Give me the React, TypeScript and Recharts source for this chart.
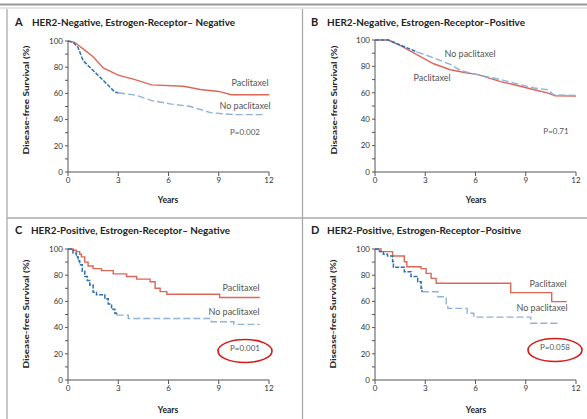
import React from 'react'
import { LineChart, Line, XAxis, YAxis } from 'recharts'

type Pt = { t: number; s: number }

// Panel A: HER2-negative, ER-negative
const aPaclitaxel: Pt[] = [
  { t: 0, s: 100 }, { t: 0.4, s: 99 }, { t: 0.6, s: 97 }, { t: 1.0, s: 93 }, { t: 1.5, s: 88 },
  { t: 2.1, s: 79.5 }, { t: 3.0, s: 74 }, { t: 4.0, s: 70.5 }, { t: 5.0, s: 66.5 }, { t: 6.9, s: 65.5 },
  { t: 7.9, s: 63 }, { t: 9.0, s: 61.5 }, { t: 9.75, s: 59 }, { t: 12, s: 59 },
]
const aNoPaclitaxel: Pt[] = [
  { t: 0, s: 100 }, { t: 0.3, s: 99 }, { t: 0.6, s: 95 }, { t: 0.9, s: 85 }, { t: 1.5, s: 77.5 },
  { t: 2.1, s: 70 }, { t: 2.8, s: 61 }, { t: 3.0, s: 60.5 }, { t: 4.1, s: 58.5 }, { t: 5.0, s: 54.5 },
  { t: 6.1, s: 52 }, { t: 7.3, s: 50 }, { t: 8.1, s: 47 }, { t: 8.5, s: 45.3 }, { t: 9.9, s: 43.8 },
  { t: 11.8, s: 43.8 },
]

// Panel B: HER2-negative, ER-positive
const bPaclitaxel: Pt[] = [
  { t: 0, s: 100 }, { t: 0.8, s: 100 }, { t: 1.55, s: 95.5 }, { t: 2.5, s: 89 }, { t: 3.5, s: 82 },
  { t: 4.5, s: 77.5 }, { t: 5.5, s: 75 }, { t: 6.1, s: 74 }, { t: 7.5, s: 68.5 }, { t: 8.5, s: 65.5 },
  { t: 9.5, s: 62.3 }, { t: 10.3, s: 60 }, { t: 10.75, s: 57.8 }, { t: 12, s: 57.5 },
]
const bNoPaclitaxel: Pt[] = [
  { t: 0, s: 100 }, { t: 0.8, s: 100 }, { t: 1.55, s: 96 }, { t: 2.5, s: 91 }, { t: 3.5, s: 86.5 },
  { t: 4.5, s: 81.5 }, { t: 5.1, s: 77 }, { t: 5.9, s: 74.3 }, { t: 7.5, s: 70 }, { t: 8.5, s: 66.7 },
  { t: 9.5, s: 63.6 }, { t: 10.35, s: 62.3 }, { t: 10.65, s: 58.5 }, { t: 12, s: 58 },
]

// Panel C: HER2-positive, ER-negative
const cPaclitaxel: Pt[] = [
  { t: 0, s: 100 }, { t: 0.3, s: 99 }, { t: 0.5, s: 98 }, { t: 0.7, s: 96 }, { t: 0.8, s: 94 },
  { t: 1.0, s: 90 }, { t: 1.2, s: 87 }, { t: 1.5, s: 85 }, { t: 2.0, s: 83.5 }, { t: 2.7, s: 81 },
  { t: 3.5, s: 79 }, { t: 4.1, s: 77 }, { t: 4.9, s: 75 }, { t: 5.2, s: 70 }, { t: 5.5, s: 67.5 },
  { t: 5.9, s: 65.5 }, { t: 9.05, s: 63 }, { t: 11.45, s: 63 },
]
const cNoPaclitaxel: Pt[] = [
  { t: 0, s: 100 }, { t: 0.3, s: 97 }, { t: 0.5, s: 94 }, { t: 0.6, s: 91 }, { t: 0.7, s: 88 },
  { t: 0.85, s: 83 }, { t: 1.0, s: 79 }, { t: 1.15, s: 76 }, { t: 1.3, s: 72.5 }, { t: 1.5, s: 67 },
  { t: 1.7, s: 65 }, { t: 2.2, s: 62 }, { t: 2.4, s: 58 }, { t: 2.6, s: 54 }, { t: 2.8, s: 51 },
  { t: 2.9, s: 49.5 }, { t: 3.6, s: 47 }, { t: 8.55, s: 44.5 }, { t: 9.9, s: 42.5 }, { t: 11.45, s: 42.5 },
]

// Panel D: HER2-positive, ER-positive
const dPaclitaxel: Pt[] = [
  { t: 0, s: 100 }, { t: 0.36, s: 98 }, { t: 1.05, s: 94.6 }, { t: 1.75, s: 90.3 }, { t: 1.9, s: 86.5 },
  { t: 2.75, s: 85 }, { t: 3.05, s: 81.4 }, { t: 3.35, s: 77.6 }, { t: 3.65, s: 73.8 }, { t: 8.1, s: 66.7 },
  { t: 10.55, s: 59.8 }, { t: 11.45, s: 59.8 },
]
const dNoPaclitaxel: Pt[] = [
  { t: 0, s: 100 }, { t: 0.26, s: 98 }, { t: 0.5, s: 96 }, { t: 0.75, s: 94.6 }, { t: 1.05, s: 90.3 },
  { t: 1.1, s: 86 }, { t: 1.75, s: 82.7 }, { t: 2.15, s: 79 }, { t: 2.55, s: 75 }, { t: 2.75, s: 70 },
  { t: 2.8, s: 67.4 }, { t: 3.75, s: 63.6 }, { t: 4.25, s: 57.3 }, { t: 4.35, s: 54.7 }, { t: 5.5, s: 51 },
  { t: 5.9, s: 48 }, { t: 9.3, s: 43.3 }, { t: 10.9, s: 43.3 },
]

const xTicks = [0, 3, 6, 9, 12]
const yTicks = [0, 10, 20, 30, 40, 50, 60, 70, 80, 90, 100]

const RED = '#dd6657'
const BLUE_DARK = '#2f6fb0'
const BLUE_LIGHT = '#8fb2d8'
const FONT = 'Lato, "Open Sans", sans-serif'

type PanelProps = {
  left: number
  top: number
  width: number
  height: number
  plotLeft: number
  plotTop: number
  plotRight: number
  plotBottom: number
  pac: Pt[]
  noPac: Pt[]
  step: boolean
}

function Panel(p: PanelProps) {
  const yW = 30
  const xH = 20
  const margin = {
    top: p.plotTop - p.top,
    left: p.plotLeft - p.left - yW,
    right: p.left + p.width - p.plotRight,
    bottom: p.top + p.height - p.plotBottom - xH,
  }
  const kind = p.step ? 'stepAfter' : 'linear'
  const early = p.noPac.filter((d) => d.t <= 3.1)
  const late = p.noPac.filter((d, i) => d.t >= 3.1 || (p.noPac[i + 1] && p.noPac[i + 1].t > 3.1 && d.t <= 3.1))
  return (
    <div style={{ position: 'absolute', left: p.left, top: p.top }}>
      <LineChart width={p.width} height={p.height} margin={margin}>
        <XAxis
          type="number"
          dataKey="t"
          domain={[0, 12]}
          ticks={xTicks}
          allowDuplicatedCategory={false}
          height={xH}
          tickSize={4}
          tickMargin={1}
          stroke="#555"
          tick={{ fill: '#333', fontSize: 8, fontFamily: FONT }}
        />
        <YAxis
          type="number"
          domain={[0, 100]}
          ticks={yTicks}
          width={yW}
          tickSize={3}
          tickMargin={2}
          stroke="#555"
          tickFormatter={(v: number) => (v % 20 === 0 ? String(v) : '')}
          tick={{ fill: '#333', fontSize: 8, fontFamily: FONT }}
        />
        <Line
          data={p.pac}
          dataKey="s"
          type={kind}
          stroke={RED}
          strokeWidth={1.4}
          dot={false}
          isAnimationActive={false}
        />
        <Line
          data={late}
          dataKey="s"
          type={kind}
          stroke={BLUE_LIGHT}
          strokeWidth={1.4}
          strokeDasharray="7 3"
          dot={false}
          isAnimationActive={false}
        />
        <Line
          data={early}
          dataKey="s"
          type={kind}
          stroke={BLUE_DARK}
          strokeWidth={1.5}
          strokeDasharray="4 1.5"
          dot={false}
          isAnimationActive={false}
        />
      </LineChart>
    </div>
  )
}

const titles = [
  { letter: 'A', x: 15, lx: 32, y: 26, text: 'HER2-Negative, Estrogen-Receptor– Negative', w: 203 },
  { letter: 'B', x: 311, lx: 327, y: 26, text: 'HER2-Negative, Estrogen-Receptor–Positive', w: 198 },
  { letter: 'C', x: 15, lx: 31, y: 234, text: 'HER2-Positive, Estrogen-Receptor– Negative', w: 199 },
  { letter: 'D', x: 311, lx: 327, y: 234, text: 'HER2-Positive, Estrogen-Receptor–Positive', w: 194 },
]

const notes = [
  { x: 250, y: 86, text: 'Paclitaxel' },
  { x: 245, y: 109, text: 'No paclitaxel' },
  { x: 245, y: 135, text: 'P=0.002' },
  { x: 470, y: 57, text: 'No paclitaxel' },
  { x: 432, y: 81, text: 'Paclitaxel' },
  { x: 556, y: 134, text: 'P=0.71' },
  { x: 241, y: 291, text: 'Paclitaxel' },
  { x: 234, y: 315, text: 'No paclitaxel' },
  { x: 245, y: 351, text: 'P=0.001' },
  { x: 548, y: 287, text: 'Paclitaxel' },
  { x: 542, y: 311, text: 'No paclitaxel' },
  { x: 555, y: 350, text: 'P=0.058' },
]

const yLabels = [
  { x: 26, y: 100 },
  { x: 334, y: 100 },
  { x: 26, y: 314 },
  { x: 333, y: 314 },
]

const xLabels = [
  { x: 168, y: 203 },
  { x: 476, y: 203 },
  { x: 168, y: 413 },
  { x: 476, y: 413 },
]

export default function App() {
  return (
    <div style={{ position: 'absolute', left: 0, top: 0, width: 587, height: 419, background: '#fff', overflow: 'hidden' }}>
      <Panel left={0} top={0} width={295} height={215} plotLeft={68} plotTop={41} plotRight={269} plotBottom={172}
        pac={aPaclitaxel} noPac={aNoPaclitaxel} step={false} />
      <Panel left={300} top={0} width={287} height={215} plotLeft={375} plotTop={40} plotRight={576} plotBottom={172}
        pac={bPaclitaxel} noPac={bNoPaclitaxel} step={false} />
      <Panel left={0} top={210} width={295} height={209} plotLeft={68} plotTop={249} plotRight={269} plotBottom={380}
        pac={cPaclitaxel} noPac={cNoPaclitaxel} step={true} />
      <Panel left={300} top={210} width={287} height={209} plotLeft={375} plotTop={249} plotRight={576} plotBottom={380}
        pac={dPaclitaxel} noPac={dNoPaclitaxel} step={true} />
      <svg width={587} height={419} style={{ position: 'absolute', left: 0, top: 0, pointerEvents: 'none' }}>
        <line x1={0} y1={4.5} x2={587} y2={4.5} stroke="#999" strokeWidth={2} />
        <line x1={0} y1={8} x2={587} y2={8} stroke="#ccc" strokeWidth={1} />
        <line x1={7} y1={9} x2={7} y2={419} stroke="#aaa" strokeWidth={1.3} />
        <line x1={302.5} y1={9} x2={302.5} y2={419} stroke="#aaa" strokeWidth={1.3} />
        <line x1={7} y1={218} x2={587} y2={218} stroke="#aaa" strokeWidth={1.3} />
        {titles.map((t) => (
          <g key={t.letter} fontFamily={FONT} fontWeight={700} fill="#222">
            <text x={t.x} y={t.y} fontSize={11}>{t.letter}</text>
            <text x={t.lx} y={t.y} fontSize={9.5} textLength={t.w} lengthAdjust="spacingAndGlyphs">{t.text}</text>
          </g>
        ))}
        {yLabels.map((l, i) => (
          <text key={i} x={l.x} y={l.y} transform={`rotate(-90 ${l.x} ${l.y})`} textAnchor="middle"
            dominantBaseline="central" fontFamily={FONT} fontWeight={700} fontSize={8} fill="#222"
            textLength={109} lengthAdjust="spacingAndGlyphs">
            Disease-free Survival (%)
          </text>
        ))}
        {xLabels.map((l, i) => (
          <text key={i} x={l.x} y={l.y} textAnchor="middle" fontFamily={FONT} fontWeight={700} fontSize={8.5} fill="#222">
            Years
          </text>
        ))}
        {notes.map((n, i) => (
          <text key={i} x={n.x} y={n.y} textAnchor="middle" fontFamily={FONT} fontSize={n.text.startsWith('P=') ? 8 : 9} fill="#555">
            {n.text}
          </text>
        ))}
        <ellipse cx={245} cy={351} rx={27} ry={11.5} fill="none" stroke="#d41a1a" strokeWidth={1.6} />
        <ellipse cx={555} cy={350} rx={27} ry={11.5} fill="none" stroke="#d41a1a" strokeWidth={1.6} />
      </svg>
    </div>
  )
}
